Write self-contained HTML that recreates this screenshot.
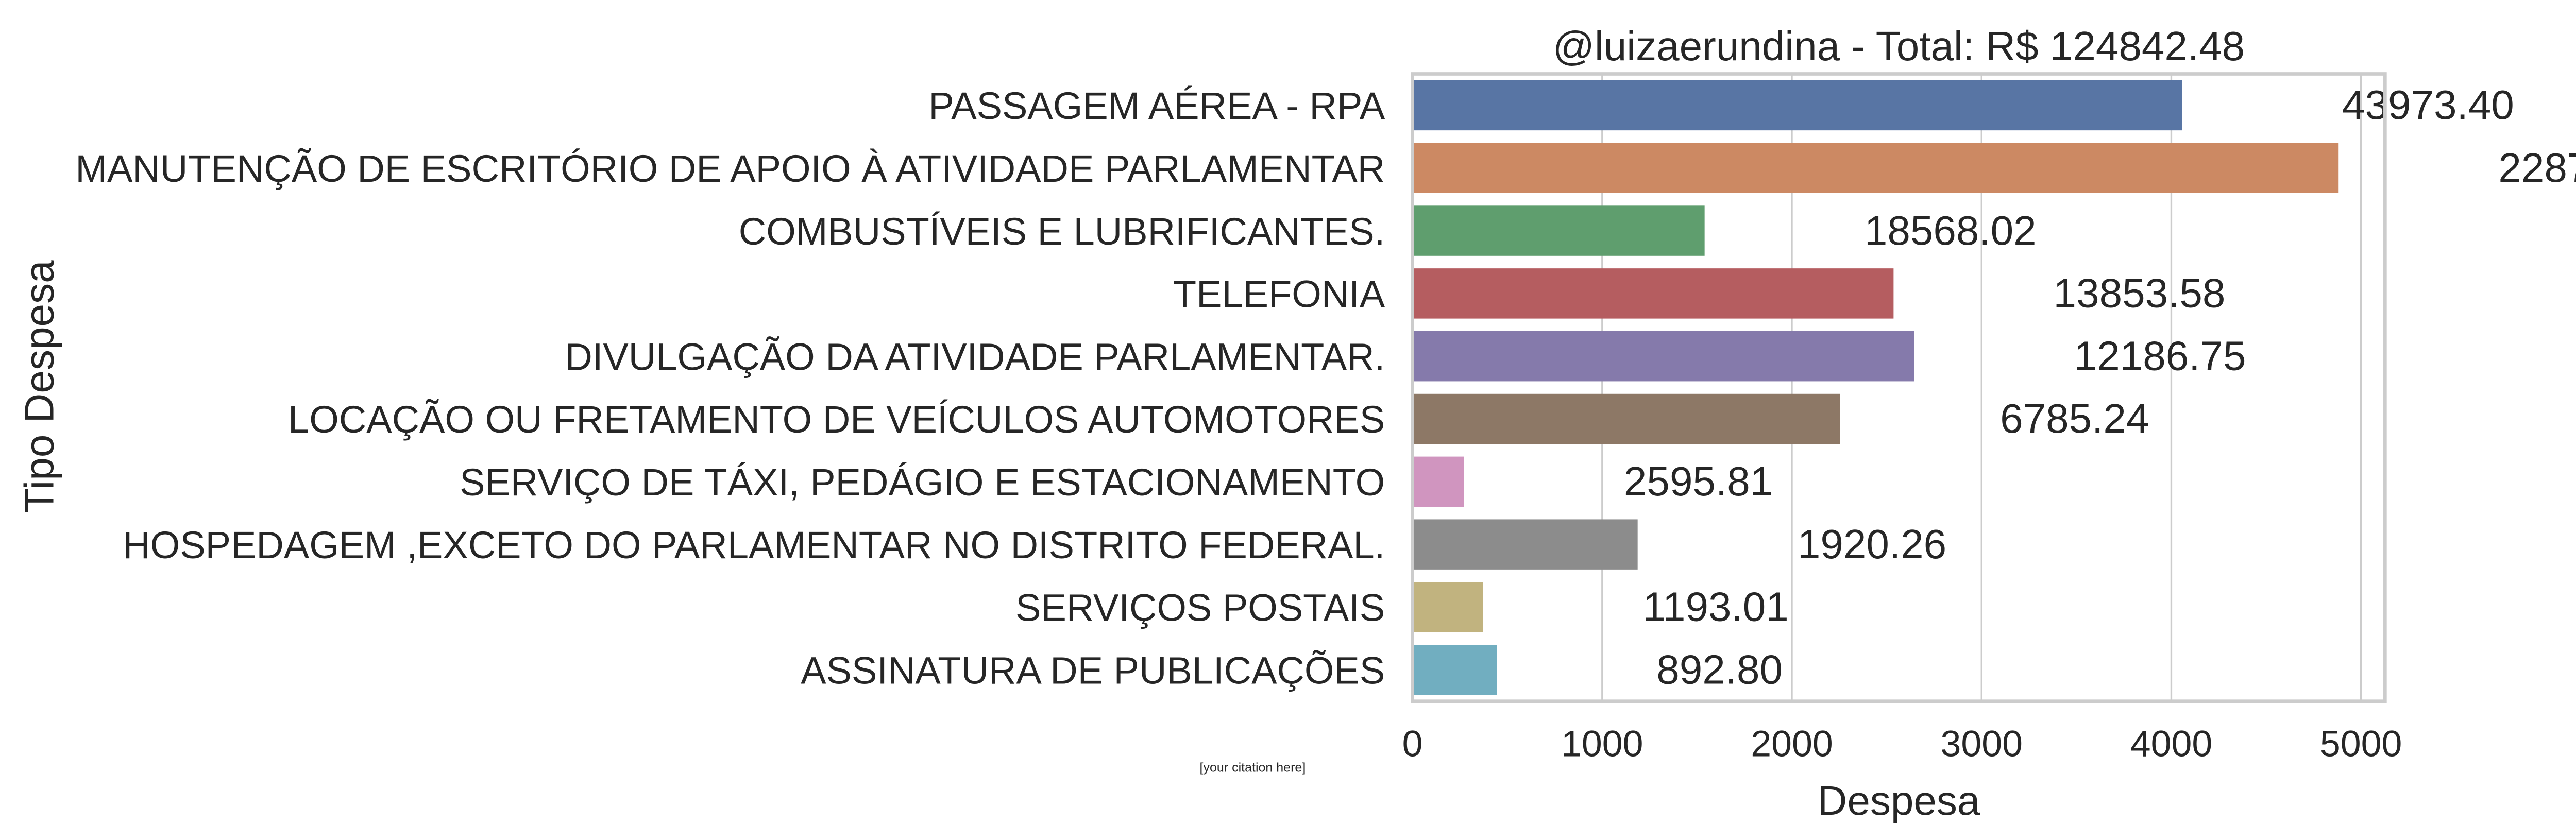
<!DOCTYPE html>
<html><head><meta charset="utf-8"><style>
html,body{margin:0;padding:0;background:#fff;overflow:hidden}
svg{display:block}
text{font-family:"Liberation Sans",Arial,sans-serif;fill:#262626}
</style></head><body>
<svg id="chart" width="5153" height="1602" viewBox="0 0 1545 480" preserveAspectRatio="none" xmlns="http://www.w3.org/2000/svg">
<g id="grid"></g><g id="bars"></g><g id="labels"></g><g id="axes"></g>
</svg>
<script>
const categories=["PASSAGEM AÉREA - RPA","MANUTENÇÃO DE ESCRITÓRIO DE APOIO À ATIVIDADE PARLAMENTAR","COMBUSTÍVEIS E LUBRIFICANTES.","TELEFONIA","DIVULGAÇÃO DA ATIVIDADE PARLAMENTAR.","LOCAÇÃO OU FRETAMENTO DE VEÍCULOS AUTOMOTORES","SERVIÇO DE TÁXI, PEDÁGIO E ESTACIONAMENTO","HOSPEDAGEM ,EXCETO DO PARLAMENTAR NO DISTRITO FEDERAL.","SERVIÇOS POSTAIS","ASSINATURA DE PUBLICAÇÕES"];
const values=[4058,4882,1540,2536,2645,2255,272,1187,371,444];
const printedValues=["43973.40","22873.61","18568.02","13853.58","12186.75","6785.24","2595.81","1920.26","1193.01","892.80"];
const xTicks=[0,1000,2000,3000,4000,5000];
const colors=["#5875a4","#cc8963","#5f9e6e","#b55d60","#857aab","#8d7866","#d095bf","#8c8c8c","#c1b37f","#71aec0"];
const L=822,R=1388,T=43,B=408;
const x=v=>L+v*0.1104;
const band=(B-T)/categories.length;
const y=i=>T+band*i;
const NS="http://www.w3.org/2000/svg";
function mk(tag,attrs,parent,txt){const e=document.createElementNS(NS,tag);for(const k in attrs)e.setAttribute(k,attrs[k]);if(txt!==undefined)e.textContent=txt;document.getElementById(parent).appendChild(e);return e;}
xTicks.forEach(t=>{
 const g=mk('line',{x1:x(t),x2:x(t),y1:T,y2:B,stroke:'#cccccc','stroke-width':1},'grid');
 
 
 const tl=mk('text',{x:x(t),y:440,'font-size':21.5,'text-anchor':'middle'},'axes',String(t));
 
 
});
categories.forEach((c,i)=>{
 const cy=y(i)+band/2;
 const b=mk('rect',{x:L,y:cy-band*0.4,width:x(values[i])-L,height:band*0.8,fill:colors[i]},'bars');
 
 
 const cl=mk('text',{x:806,y:cy+8,'font-size':22.2,'text-anchor':'end'},'labels',c);
 
 
 const vl=mk('text',{x:x(values[i])+93,y:cy+8,'font-size':24},'labels',printedValues[i]);
 
 
});
const frame=mk('rect',{x:L,y:T,width:R-L,height:B-T,fill:'none',stroke:'#cccccc','stroke-width':2},'axes');


const title=mk('text',{x:1105,y:35,'font-size':24,'text-anchor':'middle'},'axes','@luizaerundina - Total: R$ 124842.48');


const xt=mk('text',{x:1105,y:474,'font-size':24,'text-anchor':'middle'},'axes','Despesa');


const yt=mk('text',{x:0,y:0,'font-size':24,'text-anchor':'middle',transform:'translate(31,225) rotate(-90)'},'axes','Tipo Despesa');


const cit=mk('text',{x:729,y:449,'font-size':7.5,'text-anchor':'middle'},'axes','[your citation here]');


</script>
</body></html>
